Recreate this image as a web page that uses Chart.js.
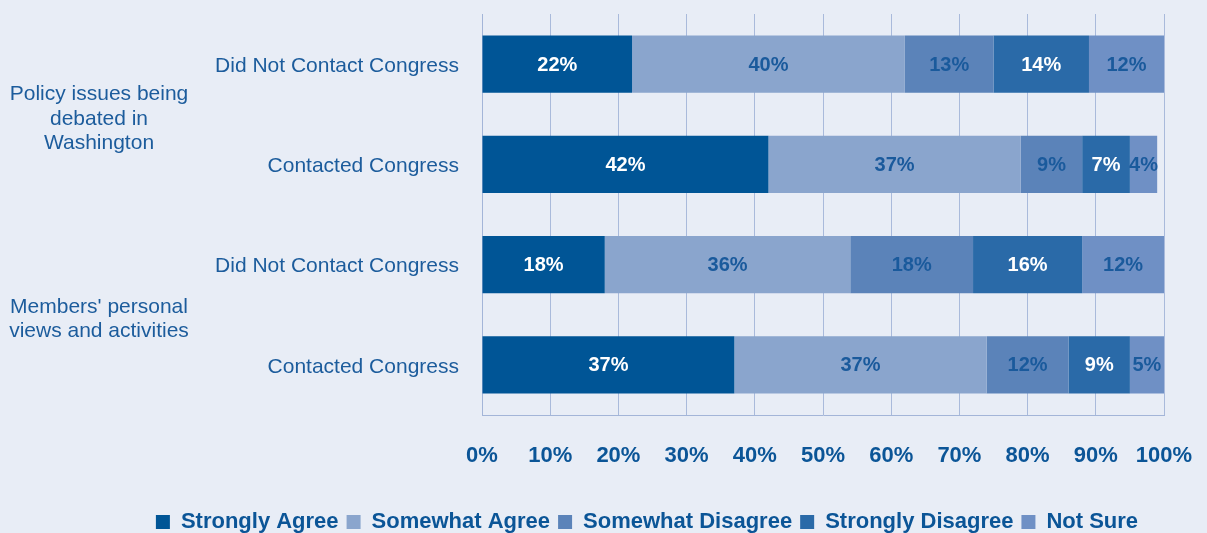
<!DOCTYPE html>
<html>
<head>
<meta charset="utf-8">
<script src="https://cdn.jsdelivr.net/npm/chart.js@4"></script>
<style>
  html, body { margin: 0; padding: 0; background: #e8edf6; overflow: hidden; }
  #wrap { width: 1207px; height: 543px; position: relative; }
</style>
</head>
<body>
<div id="wrap"><canvas id="chart"></canvas></div>
<script>
// categories (top to bottom)
const categories = ["Did Not Contact Congress", "Contacted Congress", "Did Not Contact Congress", "Contacted Congress"];
const groupLabels = [["Policy issues being", "debated in", "Washington"], ["Members' personal", "views and activities"]];

// series values (%)
const stronglyAgree = [22, 42, 18, 37];
const somewhatAgree = [40, 37, 36, 37];
const somewhatDisagree = [13, 9, 18, 12];
const stronglyDisagree = [14, 7, 16, 9];
const notSure = [12, 4, 12, 5];

const seriesNames = ["Strongly Agree", "Somewhat Agree", "Somewhat Disagree", "Strongly Disagree", "Not Sure"];
const seriesColors = ["#005596", "#8aa5cd", "#5b83b9", "#2a6aa8", "#6f90c5"];
const labelColors = ["#ffffff", "#1a5a9c", "#1a5a9c", "#ffffff", "#1a5a9c"];

const FONT = "'Liberation Sans', Arial, sans-serif";
const TEXT_BLUE = "#1c5c9c";

// draws the % value in the middle of each segment
const barLabels = {
  id: "barLabels",
  afterDatasetsDraw(chart) {
    const ctx = chart.ctx;
    ctx.save();
    ctx.font = "bold 20px " + FONT;
    ctx.textAlign = "center";
    ctx.textBaseline = "middle";
    chart.data.datasets.forEach((ds, i) => {
      const meta = chart.getDatasetMeta(i);
      meta.data.forEach((bar, j) => {
        const v = ds.data[j];
        const right = Math.min(bar.x, chart.chartArea.right);
        ctx.fillStyle = labelColors[i];
        ctx.fillText(v + "%", (right + bar.base) / 2, bar.y + 1);
      });
    });
    ctx.restore();
  }
};

// outer group labels on the left
const groupText = {
  id: "groupText",
  afterDraw(chart) {
    const ctx = chart.ctx;
    const y = chart.scales.y;
    ctx.save();
    ctx.font = "21px " + FONT;
    ctx.fillStyle = TEXT_BLUE;
    ctx.textAlign = "center";
    ctx.textBaseline = "middle";
    groupLabels.forEach((lines, g) => {
      const mid = (y.getPixelForValue(g * 2) + y.getPixelForValue(g * 2 + 1)) / 2 + 4.5;
      const lh = 24.5;
      lines.forEach((t, k) => {
        ctx.fillText(t, 99, mid + (k - (lines.length - 1) / 2) * lh);
      });
    });
    ctx.restore();
  }
};

const allSeries = [stronglyAgree, somewhatAgree, somewhatDisagree, stronglyDisagree, notSure];

new Chart(document.getElementById("chart"), {
  type: "bar",
  data: {
    labels: categories,
    datasets: allSeries.map((d, i) => ({
      label: seriesNames[i],
      data: d,
      backgroundColor: seriesColors[i],
      borderWidth: 0,
      barPercentage: 0.57,
      categoryPercentage: 1
    }))
  },
  options: {
    indexAxis: "y",
    responsive: true,
    maintainAspectRatio: false,
    animation: false,
    layout: { padding: { top: 14, right: 43, left: 130, bottom: 0 } },
    plugins: {
      tooltip: { enabled: false },
      legend: {
        position: "bottom",
        labels: {
          boxWidth: 14,
          boxHeight: 14,
          padding: 8,
          color: "#0b5597",
          font: { family: FONT, size: 22, weight: "bold" }
        }
      }
    },
    scales: {
      x: {
        stacked: true,
        min: 0,
        max: 100,
        grid: { color: "#a9badb", drawTicks: false },
        border: { color: "#a3b5d8" },
        ticks: {
          stepSize: 10,
          padding: 28,
          color: "#0b5597",
          font: { family: FONT, size: 22, weight: "bold" },
          callback: v => v + "%"
        },
        afterFit: s => { s.height = 88; s.paddingLeft = 0; s.paddingRight = 0; }
      },
      y: {
        stacked: true,
        grid: { display: false, drawTicks: false },
        border: { color: "#a3b5d8" },
        ticks: {
          padding: 23,
          labelOffset: 2,
          color: TEXT_BLUE,
          font: { family: FONT, size: 21 }
        },
        afterFit: s => { s.width = 352; s.paddingTop = 0; s.paddingBottom = 0; }
      }
    }
  },
  plugins: [barLabels, groupText]
});
</script>
</body>
</html>
